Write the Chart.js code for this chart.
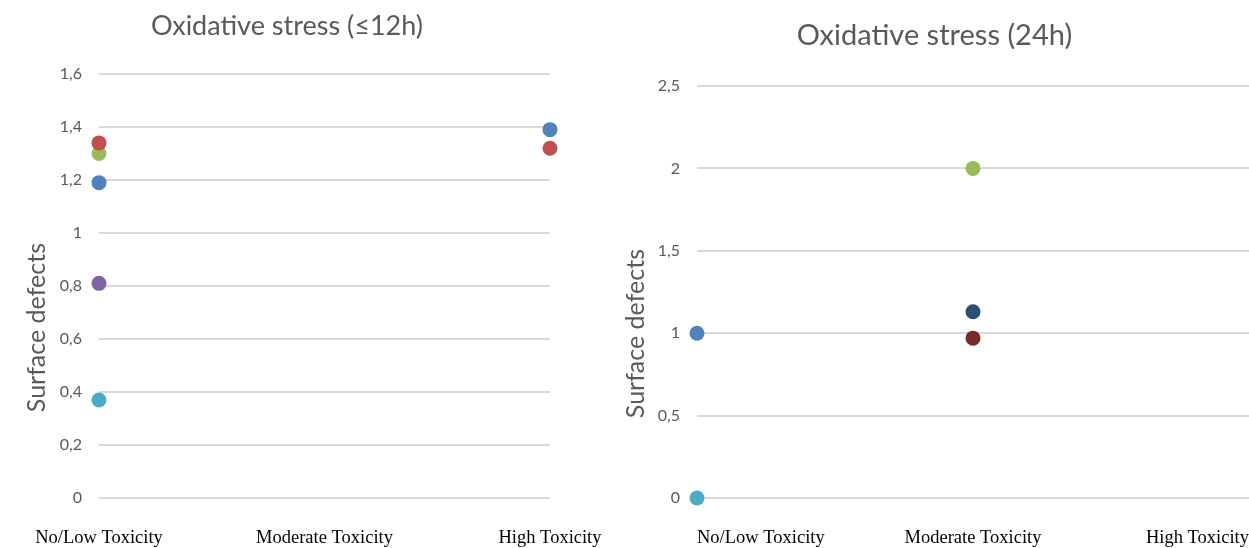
<!DOCTYPE html>
<html lang="en">

<head>
    <meta charset="UTF-8">
    <title>Oxidative stress</title>
    <style>
        body { margin: 0; background: #fff; overflow: hidden; }
        .box { position: absolute; top: 0; height: 548px; }
        #left { left: 0; width: 620px; }
        #right { left: 620px; width: 637px; }
    </style>
</head>

<body>
    <div class="box" id="left"><canvas id="chart12"></canvas></div>
    <div class="box" id="right"><canvas id="chart24"></canvas></div>

    <script src="https://cdn.jsdelivr.net/npm/chart.js@4/dist/chart.umd.min.js"></script>

    <script>
        var categories = ["No/Low Toxicity", "Moderate Toxicity", "High Toxicity"];

        // ≤12h
        var early1 = [1.19, null, 1.39];
        var early2 = [1.34, null, 1.32];
        var early3 = [1.30, null, null];
        var early4 = [0.81, null, null];
        var early5 = [0.37, null, null];

        // 24h
        var late1 = [1.00, null, null];
        var late2 = [0.00, null, null];
        var late3 = [null, 2.00, null];
        var late4 = [null, 1.13, null];
        var late5 = [null, 0.97, null];

        var ticks12 = [0, 0.2, 0.4, 0.6, 0.8, 1, 1.2, 1.4, 1.6];
        var ticks24 = [0, 0.5, 1, 1.5, 2, 2.5];

        var grey = "#595959";
        var sans = "Lato, 'Open Sans', sans-serif";
        // trailing spaces push the axis title a bit below the middle, like the original
        var yTitle = "Surface defects" + "\u00a0".repeat(13);

        function dots(data, color) {
            return {
                data: data,
                showLine: false,
                pointRadius: 7.5,
                pointHoverRadius: 7.5,
                pointBorderWidth: 0,
                pointBackgroundColor: color,
                borderColor: color,
                backgroundColor: color,
                clip: false
            };
        }

        function comma(v) {
            return String(v).replace(".", ",");
        }

        function makeChart(id, opts) {
            new Chart(document.getElementById(id), {
                type: "line",
                data: {
                    labels: categories,
                    datasets: opts.sets
                },
                options: {
                    responsive: true,
                    maintainAspectRatio: false,
                    animation: false,
                    layout: {
                        padding: { left: opts.padLeft, right: opts.padRight, top: opts.padTop, bottom: 0 }
                    },
                    plugins: {
                        legend: { display: false },
                        tooltip: { enabled: false },
                        title: {
                            display: true,
                            text: opts.title,
                            color: grey,
                            font: { family: sans, size: opts.titleSize, weight: "normal" },
                            padding: { top: 0, bottom: opts.titleGap }
                        }
                    },
                    scales: {
                        x: {
                            offset: false,
                            // hidden tick marks only used to push the labels down
                            grid: { display: false, drawTicks: true, tickLength: 29 },
                            border: { display: false },
                            ticks: {
                                color: "#000",
                                align: opts.align,
                                maxRotation: 0,
                                autoSkip: false,
                                padding: 0,
                                font: { family: "'Liberation Serif', serif", size: 18.5 }
                            },
                            afterFit: function (s) { s.height = 50; }
                        },
                        y: {
                            min: 0,
                            max: opts.max,
                            afterBuildTicks: function (s) {
                                s.ticks = opts.ticks.map(function (v) { return { value: v }; });
                            },
                            grid: { color: "#d9d9d9", lineWidth: 2, drawTicks: false },
                            border: { display: false },
                            ticks: {
                                color: grey,
                                padding: 17,
                                font: { family: sans, size: 16 },
                                callback: function (v) { return comma(v); }
                            },
                            title: {
                                display: true,
                                text: yTitle,
                                color: grey,
                                font: { family: sans, size: 25 },
                                padding: { top: opts.yTitlePad, bottom: 0 }
                            },
                            afterFit: function (s) { s.width = opts.yWidth; }
                        }
                    }
                }
            });
        }

        makeChart("chart12", {
            title: "Oxidative stress (≤12h)",
            titleSize: 27,
            sets: [
                dots(early1, "#4f81bd"),
                dots(early2, "#c0504d"),
                dots(early3, "#9bbb59"),
                dots(early4, "#8064a2"),
                dots(early5, "#4bacc6")
            ],
            max: 1.6,
            ticks: ticks12,
            align: "center",
            padLeft: 24,
            padRight: 70,
            padTop: 10,
            titleGap: 31.6,
            yWidth: 75,
            yTitlePad: -2
        });

        makeChart("chart24", {
            title: "Oxidative stress (24h)",
            titleSize: 29,
            sets: [
                dots(late1, "#4f81bd"),
                dots(late2, "#4bacc6"),
                dots(late3, "#9bbb59"),
                dots(late4, "#2c4d75"),
                dots(late5, "#772c2a")
            ],
            max: 2.5,
            ticks: ticks24,
            align: "inner",
            padLeft: 0,
            padRight: 8,
            padTop: 18,
            titleGap: 33.2,
            yWidth: 77,
            yTitlePad: 1
        });
    </script>
</body>

</html>
